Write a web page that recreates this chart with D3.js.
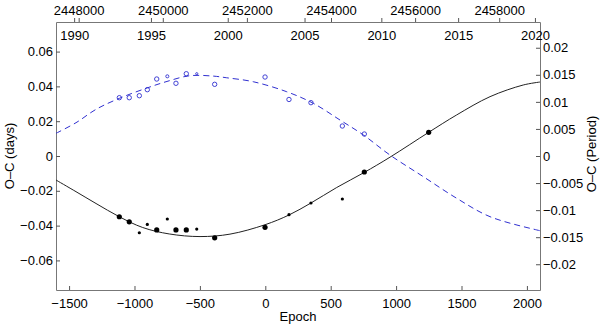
<!DOCTYPE html>
<html><head><meta charset="utf-8">
<script src="https://cdn.jsdelivr.net/npm/d3@7"></script>
<style>
html,body{margin:0;padding:0;background:#fff;}
svg text{font-family:"Liberation Sans",Arial,Helvetica,sans-serif;font-size:13px;fill:#000;}
</style></head>
<body><svg id="chart" width="600" height="325"></svg>
<script>
// ---- data ----
const epochs   = [-1116,-1040,-963,-902,-830,-749,-683,-604,-524,-387,-2,181,349,589,757,1249];
const ocDays   = [-0.0349,-0.0378,-0.0441,-0.0393,-0.0425,-0.0362,-0.0425,-0.0425,-0.0420,-0.0470,-0.0410,-0.0337,-0.0270,-0.0247,-0.0092,0.0136];
const weights  = [1,1,0.5,0.5,1,0.5,1,1,0.5,1,1,0.5,0.5,0.5,1,1];
const periodEpochs = [-1116,-1040,-963,-902,-830,-749,-683,-604,-524,-387,-2,181,349,589,757];
const ocPeriod     = [0.01077,0.01077,0.01114,0.01225,0.01422,0.01472,0.01343,0.01520,0.01520,0.01324,0.01459,0.01044,0.00985,0.00554,0.00406];
const periodWeights= [1,1,1,1,1,0.7,1,1,0.5,1,1,1,1,1,1];
// fitted curves
const fitEpochs = [-1600,-1447,-1294,-1116,-937,-734,-499,-270,-2,181,349,546,755,953,1249,1463,1718,1972,2100];
const fitDays   = [-0.0138,-0.0205,-0.0273,-0.0349,-0.0411,-0.0448,-0.0463,-0.0449,-0.0395,-0.0339,-0.0270,-0.0181,-0.0095,-0.0007,0.0136,0.0236,0.0341,0.0408,0.0425];
const fit2Epochs = [-1600,-1447,-1294,-1116,-912,-759,-580,-402,-295,-92,164,367,571,750,953,1208,1463,1718,2075,2100];
const fit2Period = [0.00419,0.00615,0.00862,0.01065,0.01250,0.01372,0.01482,0.01477,0.01445,0.01372,0.01187,0.00973,0.00665,0.00388,0.00018,-0.00382,-0.00781,-0.01121,-0.01366,-0.01380];
// axis ticks
const epochTicks = [-1500,-1000,-500,0,500,1000,1500,2000];
const daysTicks  = [-0.06,-0.04,-0.02,0,0.02,0.04,0.06];
const periodTicks= [-0.02,-0.015,-0.01,-0.005,0,0.005,0.01,0.015,0.02];
const jdTicks    = [2448000,2450000,2452000,2454000,2456000,2458000];
const yearTicks  = [1990,1995,2000,2005,2010,2015,2020];
// ephemeris
const T0 = 2452437.6, P = 3.1106;
const epochDomain = [-1600, 2100];
const daysDomain = [-0.077, 0.077];

const svg = d3.select("#chart");
const L = 56, R = 540, T = 22, B = 290;
const x = d3.scaleLinear().domain(epochDomain).range([L, R]);
const y = d3.scaleLinear().domain(daysDomain).range([B, T]);
const y2 = d3.scaleLinear().domain(daysDomain.map(d => d / P)).range([B, T]);
const xJD = d3.scaleLinear().domain(epochDomain.map(e => T0 + P * e)).range([L, R]);
const xYr = d3.scaleLinear().domain(xJD.domain().map(j => 2000 + (j - 2451544.5) / 365.25)).range([L, R]);

const fmt = v => (v < 0 ? "\u2212" : "") + d3.format("~g")(Math.abs(v));
const axisCol = "#777";

function styleAxis(g){
  g.select(".domain").attr("stroke", axisCol);
  g.selectAll(".tick line").attr("stroke", "#555");
  g.selectAll(".tick text").attr("fill", "#000");
  g.attr("font-size", null).attr("font-family", null);
}

// bottom
svg.append("g").attr("transform", `translate(0,${B})`)
  .call(d3.axisBottom(x).tickValues(epochTicks).tickFormat(fmt).tickSizeInner(-4).tickSizeOuter(0).tickPadding(9))
  .call(styleAxis);
// left
svg.append("g").attr("transform", `translate(${L},0)`)
  .call(d3.axisLeft(y).tickValues(daysTicks).tickFormat(fmt).tickSizeInner(-4).tickSizeOuter(0).tickPadding(3))
  .call(styleAxis);
// right
svg.append("g").attr("transform", `translate(${R},0)`)
  .call(d3.axisRight(y2).tickValues(periodTicks).tickFormat(fmt).tickSizeInner(-4).tickSizeOuter(0).tickPadding(3))
  .call(styleAxis);
// top JD
svg.append("g").attr("transform", `translate(0,${T})`)
  .call(d3.axisTop(xJD).tickValues(jdTicks).tickFormat(d3.format("d")).tickSizeInner(4).tickSizeOuter(0).tickPadding(3))
  .call(styleAxis);
// top years (inside)
const gy = svg.append("g").attr("transform", `translate(0,${T})`)
  .call(d3.axisBottom(xYr).tickValues(yearTicks).tickFormat(d3.format("d")).tickSizeInner(-4).tickSizeOuter(0).tickPadding(9))
  .call(styleAxis);
gy.select(".domain").remove();

// axis titles
svg.append("text").attr("transform", `translate(14,156) rotate(-90)`).attr("text-anchor", "middle").text("O\u2013C (days)");
svg.append("text").attr("transform", `translate(596,154) rotate(-90)`).attr("text-anchor", "middle").text("O\u2013C (Period)");
svg.append("text").attr("x", (L + R) / 2).attr("y", 321).attr("text-anchor", "middle").text("Epoch");

// curves
svg.append("clipPath").attr("id", "clp").append("rect").attr("x", L).attr("y", T).attr("width", R - L).attr("height", B - T);
const plot = svg.append("g").attr("clip-path", "url(#clp)");
plot.append("path")
  .datum(fit2Epochs.map((e, i) => [e, fit2Period[i]]))
  .attr("fill", "none").attr("stroke", "#3030d0").attr("stroke-width", 1).attr("stroke-dasharray", "6,4")
  .attr("d", d3.line().x(d => x(d[0])).y(d => y2(d[1])).curve(d3.curveCatmullRom));
plot.append("path")
  .datum(fitEpochs.map((e, i) => [e, fitDays[i]]))
  .attr("fill", "none").attr("stroke", "#222").attr("stroke-width", 1)
  .attr("d", d3.line().x(d => x(d[0])).y(d => y(d[1])).curve(d3.curveCatmullRom));

// points
plot.selectAll("circle.oc").data(epochs.map((e, i) => ({e, v: ocDays[i], w: weights[i]})))
  .join("circle").attr("class", "oc")
  .attr("cx", d => x(d.e)).attr("cy", d => y(d.v))
  .attr("r", d => d.w >= 1 ? 2.6 : 1.6).attr("fill", "#000");
plot.selectAll("circle.per").data(periodEpochs.map((e, i) => ({e, v: ocPeriod[i], w: periodWeights[i]})))
  .join("circle").attr("class", "per")
  .attr("cx", d => x(d.e)).attr("cy", d => y2(d.v))
  .attr("r", d => 2.2 * d.w).attr("fill", "none").attr("stroke", "#3030d0").attr("stroke-width", 0.9);
</script></body></html>
